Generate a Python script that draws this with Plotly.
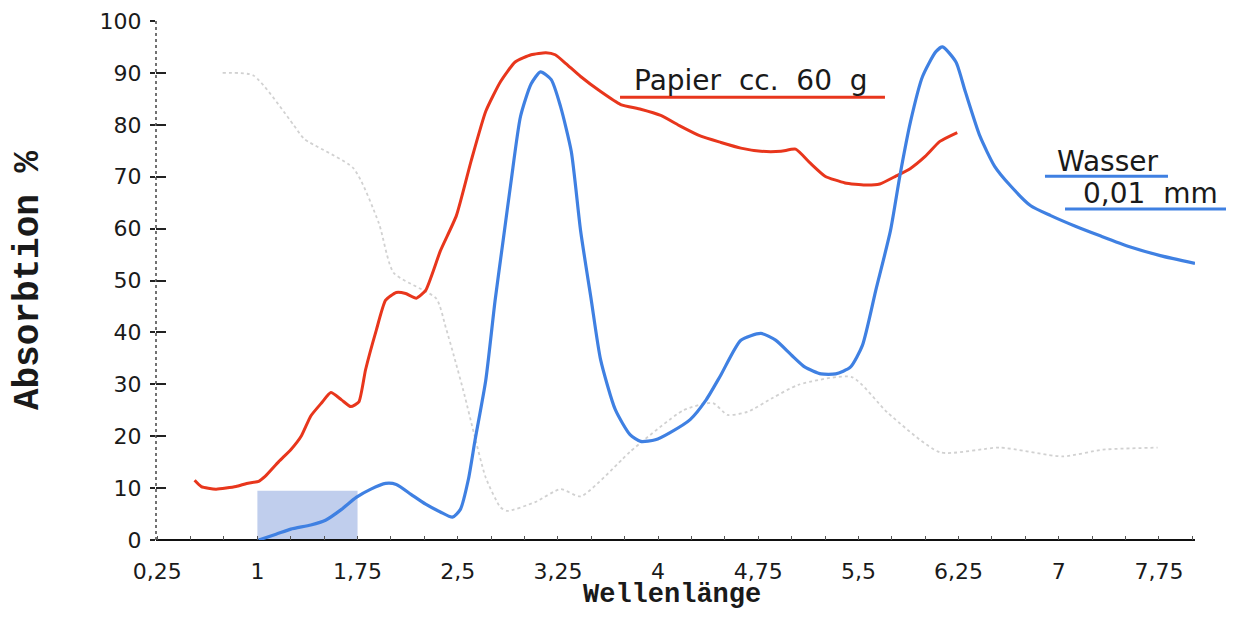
import plotly.graph_objects as go

# ---------------- data ----------------
papier_x = [0.53, 0.58, 0.69, 0.84, 0.92, 1.01, 1.06, 1.16, 1.25, 1.33, 1.40, 1.48, 1.55,
            1.63, 1.70, 1.76, 1.81, 1.89, 1.96, 2.04, 2.11, 2.19, 2.26, 2.37, 2.49, 2.60,
            2.71, 2.82, 2.93, 3.05, 3.16, 3.23, 3.31, 3.42, 3.57, 3.72, 3.87, 4.02, 4.17,
            4.32, 4.47, 4.62, 4.77, 4.92, 5.03, 5.14, 5.25, 5.40, 5.55, 5.66, 5.78, 5.89,
            6.00, 6.11, 6.24]
papier_y = [11.5, 10.3, 9.8, 10.3, 10.9, 11.3, 12.3, 15.1, 17.4, 20.1, 23.9, 26.4, 28.4,
            27.0, 25.7, 26.6, 32.8, 40.4, 46.2, 47.7, 47.5, 46.6, 48.1, 55.7, 62.5, 73.0,
            82.6, 88.3, 92.1, 93.5, 93.9, 93.5, 91.8, 89.3, 86.4, 83.9, 83.0, 81.8, 79.7,
            77.8, 76.6, 75.5, 74.9, 74.9, 75.3, 72.6, 70.1, 68.8, 68.4, 68.6, 70.1, 71.6,
            73.9, 76.8, 78.5]

wasser_x = [1.01, 1.14, 1.25, 1.40, 1.51, 1.63, 1.74, 1.85, 1.96, 2.04, 2.15, 2.26, 2.37,
            2.46, 2.52, 2.58, 2.63, 2.71, 2.78, 2.84, 2.90, 2.97, 3.05, 3.12, 3.20, 3.27,
            3.35, 3.42, 3.50, 3.57, 3.68, 3.79, 3.87, 3.98, 4.09, 4.24, 4.36, 4.47, 4.62,
            4.77, 4.88, 5.00, 5.10, 5.22, 5.33, 5.44, 5.53, 5.63, 5.74, 5.81, 5.89, 5.98,
            6.08, 6.13, 6.23, 6.30, 6.41, 6.52, 6.64, 6.79, 6.94, 7.12, 7.31, 7.53, 7.76,
            8.02]
wasser_y = [0.0, 1.1, 2.1, 2.9, 3.8, 5.9, 8.2, 9.8, 10.9, 10.7, 8.8, 6.9, 5.4,
            4.4, 5.9, 11.7, 19.3, 30.8, 46.2, 57.7, 69.2, 81.6, 87.9, 90.2, 88.7, 83.5,
            74.9, 59.6, 46.2, 34.7, 25.1, 20.3, 19.0, 19.3, 20.7, 23.2, 27.0, 31.8, 38.5,
            39.8, 38.5, 35.6, 33.3, 32.0, 32.0, 33.3, 37.5, 48.1, 59.6, 70.1, 80.6, 89.3,
            94.1, 95.0, 92.1, 86.4, 77.8, 72.0, 68.2, 64.4, 62.5, 60.5, 58.6, 56.5, 54.8,
            53.3]

# faint dotted third curve of the original scan
dotted_x = [0.74, 0.97, 1.27, 1.35, 1.72, 1.91, 2.02, 2.34, 2.41, 2.47, 2.55, 2.62, 2.71,
            2.82, 2.87, 3.08, 3.27, 3.42, 3.73, 3.79, 4.19, 4.41, 4.52, 4.67, 4.86, 5.05,
            5.45, 5.72, 6.11, 6.56, 7.03, 7.33, 7.74]
dotted_y = [90.0, 89.5, 80.0, 77.3, 71.6, 61.0, 51.5, 46.5, 41.0, 35.6, 28.0, 20.7, 12.0,
            6.3, 5.6, 7.3, 9.8, 8.4, 15.5, 17.0, 25.0, 26.4, 24.1, 24.7, 27.4, 29.9,
            31.4, 24.5, 16.9, 17.8, 16.1, 17.4, 17.8]

x_tickvals = [0.25, 1, 1.75, 2.5, 3.25, 4, 4.75, 5.5, 6.25, 7, 7.75]
x_ticktext = ["0,25", "1", "1,75", "2,5", "3,25", "4", "4,75", "5,5", "6,25", "7", "7,75"]
y_tickvals = [0, 10, 20, 30, 40, 50, 60, 70, 80, 90, 100]

band_x = [1.0, 1.75]
band_y = [0.0, 9.5]

RED = "#e8361c"
BLUE = "#3f80e2"

fig = go.Figure()

fig.add_trace(go.Scatter(x=dotted_x, y=dotted_y, mode="lines",
                         line=dict(color="rgba(90,90,90,0.28)", width=1.8, dash="dot",
                                   shape="spline", smoothing=0.6),
                         hoverinfo="skip", showlegend=False))
fig.add_trace(go.Scatter(x=papier_x, y=papier_y, mode="lines", name="Papier cc. 60 g",
                         line=dict(color=RED, width=3, shape="spline", smoothing=0.5),
                         showlegend=False))
fig.add_trace(go.Scatter(x=wasser_x, y=wasser_y, mode="lines", name="Wasser 0,01 mm",
                         line=dict(color=BLUE, width=3.2, shape="spline", smoothing=0.6),
                         showlegend=False))
fig.add_trace(go.Scatter(x=[None], y=[None], yaxis="y2", showlegend=False, hoverinfo="skip"))

fig.add_shape(type="rect", xref="x", yref="y",
              x0=band_x[0], x1=band_x[1], y0=band_y[0], y1=band_y[1],
              fillcolor="rgba(140,165,222,0.55)", line=dict(width=0), layer="below")

fig.add_shape(type="line", xref="paper", yref="y", x0=0, x1=0, y0=0, y1=100,
              line=dict(color="#444", width=1.5, dash="dot"))

fig.add_shape(type="line", xref="paper", yref="paper", x0=0.4466, x1=0.7016, y0=0.853, y1=0.853,
              line=dict(color=RED, width=3))
fig.add_shape(type="line", xref="paper", yref="paper", x0=0.8556, x1=0.974, y0=0.701, y1=0.701,
              line=dict(color=BLUE, width=3))
fig.add_shape(type="line", xref="paper", yref="paper", x0=0.8749, x1=1.0356, y0=0.638, y1=0.638,
              line=dict(color=BLUE, width=3))

ann_font = dict(family="DejaVu Sans", size=28, color="#1a1a1a")
fig.add_annotation(text="Papier  cc.  60  g", xref="paper", yref="paper", x=0.5727, y=0.885,
                   xanchor="center", yanchor="middle", showarrow=False, font=ann_font)
fig.add_annotation(text="Wasser", xref="paper", yref="paper", x=0.9158, y=0.730,
                   xanchor="center", yanchor="middle", showarrow=False, font=ann_font)
fig.add_annotation(text="0,01  mm", xref="paper", yref="paper", x=0.9567, y=0.667,
                   xanchor="center", yanchor="middle", showarrow=False, font=ann_font)

# x-axis title placed below the tick labels
fig.add_annotation(text="Wellenlänge", xref="paper", yref="paper", x=0.4966, y=-0.138,
                   xanchor="center", yanchor="bottom", showarrow=False,
                   font=dict(family="Liberation Mono", size=27, color="#1a1a1a", weight="bold"))

xtick_font = dict(family="DejaVu Sans", size=22, color="#1a1a1a")
ytick_font = dict(family="DejaVu Sans", size=22, color="#1a1a1a")

fig.update_layout(
    width=1218, height=607,
    margin=dict(l=148, r=31, t=13, b=75, autoexpand=False),
    paper_bgcolor="white", plot_bgcolor="white",
    showlegend=False,
    xaxis=dict(range=[0.241, 8.02], tickvals=x_tickvals, ticktext=x_ticktext,
               automargin=False,
               showgrid=False, zeroline=False, showline=False,
               ticks="outside", ticklen=10, tickcolor="rgba(0,0,0,0)", tickwidth=1,
               minor=dict(ticks="inside", ticklen=4, dtick=0.25, tick0=0.25, tickcolor="#555"),
               ticklabelstandoff=2, tickfont=xtick_font, ticklabeloverflow="allow"),
    yaxis=dict(range=[0, 100], tickvals=y_tickvals, showgrid=False,
               automargin=True,
               zeroline=True, zerolinecolor="#111", zerolinewidth=1.5,
               showline=False, ticks="outside", ticklen=5, tickwidth=2, tickcolor="#222",
               tickfont=ytick_font, ticklabelstandoff=4, ticklabeloverflow="allow",
               title=dict(text="Absorbtion %", font=dict(family="Liberation Mono", size=36,
                                                          color="#1a1a1a", weight="bold"),
                          standoff=55)),
    yaxis2=dict(range=[0, 100], overlaying="y", anchor="x", side="left", automargin=False,
                tickvals=y_tickvals, showticklabels=False, showgrid=False, zeroline=False,
                showline=False, ticks="inside", ticklen=10, tickwidth=2, tickcolor="#222"),
)

fig.write_html("out.html")
